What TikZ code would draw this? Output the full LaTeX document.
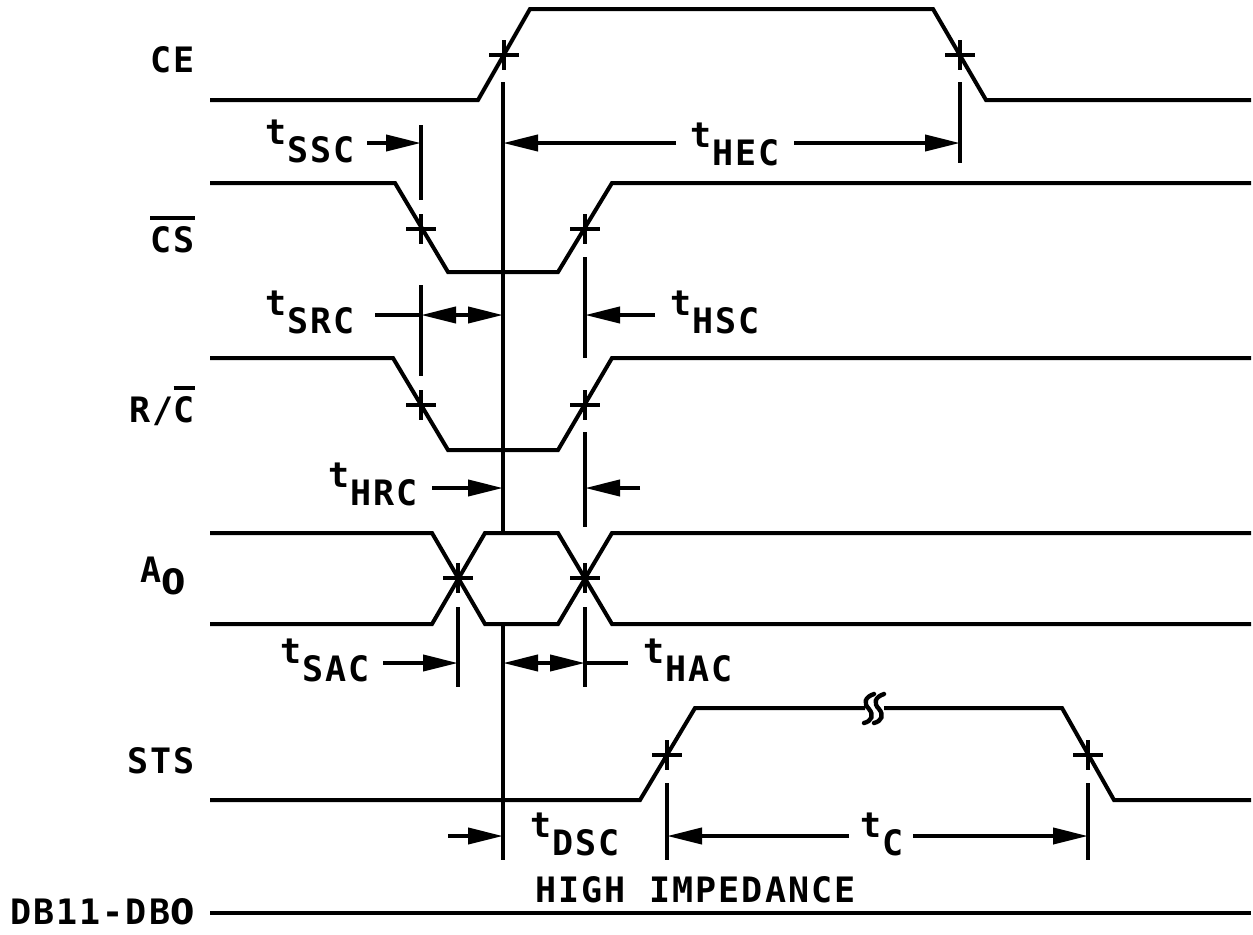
\documentclass[tikz,border=0pt]{standalone}
\usepackage{fontspec}
\usetikzlibrary{arrows.meta}
\newfontfamily\tfont[LetterSpace=6]{DejaVu Sans Mono}
\newfontfamily\zfont{DejaVu Sans}
\newcommand\zro{{\zfont\bfseries 0}}
\newcommand\tsub[1]{t\kern0.5pt\raisebox{-9pt}{#1}}
\newcommand\ovl[1]{\leavevmode\vbox{\hrule height 2pt\kern3pt\hbox{#1}}}
\tikzset{
  wave/.style={line width=2pt, line join=miter},
  guide/.style={line width=2pt},
  dimr/.style={line width=2pt, -{Triangle[length=17.5pt,width=8pt]}},
  dimb/.style={line width=2pt, {Triangle[length=17.5pt,width=8pt]}-{Triangle[length=17.5pt,width=8pt]}},
  tmark/.pic={\draw[line width=2pt] (-15,0)--(15,0) (0,-15)--(0,15);},
  siglbl/.style={anchor=base east, inner sep=0pt, font=\tfont\bfseries\fontsize{17.5pt}{17.5pt}\selectfont},
  tlbl/.style={anchor=base west, inner sep=0pt, font=\tfont\bfseries\fontsize{17.5pt}{17.5pt}\selectfont}
}
\begin{document}
\begin{tikzpicture}[x=0.5pt,y=-0.5pt]
\useasboundingbox (0,0) rectangle (1253,934);
% signal labels
\node[siglbl] (lce) at (195,72) {CE};
\node[siglbl] (lcs) at (195,252) {\ovl{CS}};
\node[siglbl] (lrc) at (195,422) {R/\ovl{C}};
\node[siglbl] (la0) at (186,582) {A\raisebox{-6pt}{\zro}};
\node[siglbl] (lsts) at (195,773) {STS};
\node[siglbl] (ldb) at (195,924) {DB11-DB\zro};
% waveforms
\draw[wave] (210,100)--(478,100)--(530,9)--(933,9)--(986,100)--(1251,100);
\draw[wave] (210,183)--(395,183)--(448,272)--(558,272)--(612,183)--(1251,183);
\draw[wave] (210,358)--(393,358)--(448,450)--(558,450)--(612,358)--(1251,358);
\draw[wave] (210,533)--(432,533)--(485,624)--(558,624)--(612,533)--(1251,533);
\draw[wave] (210,624)--(432,624)--(485,533)--(558,533)--(612,624)--(1251,624);
\draw[wave] (210,800)--(640,800)--(695,708)--(865,708);
\draw[wave] (884,708)--(1062,708)--(1114,800)--(1251,800);
\draw[line width=2.2pt, line cap=round] (874,694) .. controls (865,697) and (863,703) .. (869,709) .. controls (874,715) and (872,721) .. (864,723);
\draw[line width=2.2pt, line cap=round] (884,694) .. controls (875,697) and (873,703) .. (879,709) .. controls (884,715) and (882,721) .. (874,723);
\draw[wave] (210,913)--(1251,913);
% crossing marks
\pic at (504,55) {tmark};
\pic at (960,55) {tmark};
\pic at (421,229) {tmark};
\pic at (585,229) {tmark};
\pic at (421,405) {tmark};
\pic at (585,405) {tmark};
\pic at (458,578) {tmark};
\pic at (585,578) {tmark};
\pic at (667,755) {tmark};
\pic at (1088,755) {tmark};
% guide lines
\draw[guide] (503,82)--(503,533) (503,624)--(503,860);
\draw[guide] (960,82)--(960,163);
\draw[guide] (421,125)--(421,200) (421,285)--(421,376);
\draw[guide] (585,257)--(585,358) (585,432)--(585,527);
\draw[guide] (458,607)--(458,687) (585,607)--(585,687);
\draw[guide] (667,783)--(667,860) (1088,783)--(1088,860);
% dimension arrows
\draw[dimr] (367,143)--(421,143);
\draw[dimr] (676,143)--(503,143);
\draw[dimr] (794,143)--(960,143);
\draw[guide] (375,315)--(421,315);
\draw[dimb] (421,315)--(503,315);
\draw[dimr] (655,315)--(585,315);
\draw[dimr] (432,488)--(503,488);
\draw[dimr] (640,488)--(585,488);
\draw[dimr] (383,663)--(458,663);
\draw[dimb] (503,663)--(585,663);
\draw[guide] (585,663)--(628,663);
\draw[dimr] (448,836)--(503,836);
\draw[dimr] (849,836)--(667,836);
\draw[dimr] (913,836)--(1088,836);
% timing labels
\node[tlbl] (tssc) at (265,144) {\tsub{SSC}};
\node[tlbl] (thec) at (690,147) {\tsub{HEC}};
\node[tlbl] (tsrc) at (265,315) {\tsub{SRC}};
\node[tlbl] (thsc) at (670,315) {\tsub{HSC}};
\node[tlbl] (thrc) at (328,487) {\tsub{HRC}};
\node[tlbl] (tsac) at (280,663) {\tsub{SAC}};
\node[tlbl] (thac) at (643,663) {\tsub{HAC}};
\node[tlbl] (tdsc) at (530,837) {\tsub{DSC}};
\node[tlbl] (tc) at (860,837) {\tsub{C}};
\node[tlbl] (himp) at (535,902) {HIGH IMPEDANCE};
\end{tikzpicture}
\end{document}
